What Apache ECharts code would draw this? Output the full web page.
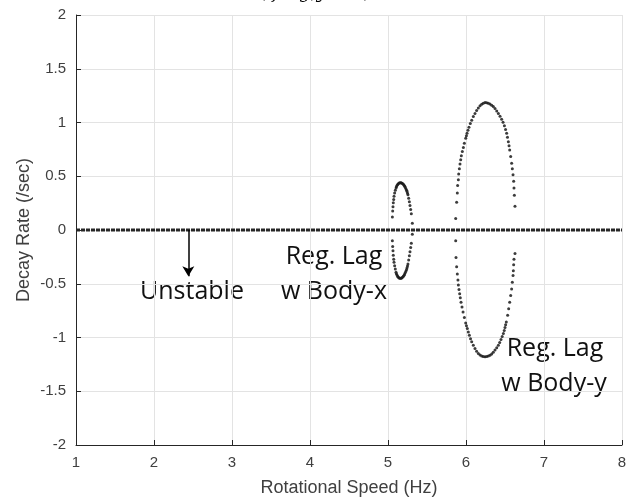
<!DOCTYPE html>
<html>
<head>
<meta charset="utf-8">
<script src="https://cdn.jsdelivr.net/npm/echarts@6/dist/echarts.min.js"></script>
<style>
html,body{margin:0;padding:0;background:#fff;}
#c{width:632px;height:502px;}
</style>
</head>
<body>
<div id="c"></div>
<script>
// ---- data ----
var xTicks = [1, 2, 3, 4, 5, 6, 7, 8];
var yTicks = [-2, -1.5, -1, -0.5, 0, 0.5, 1, 1.5, 2];

// neutral (zero decay) modes across the whole speed range
var zeroModes = [[1, 0], [8, 0]];

// Regressive lag mode coupled with body-x (small ellipse)
var lagBodyXUpper = [
  [5.056,0.120],[5.060,0.176],[5.064,0.216],[5.068,0.253],[5.073,0.283],[5.077,0.314],
  [5.085,0.345],[5.094,0.369],[5.103,0.391],[5.108,0.403],[5.115,0.413],[5.124,0.423],
  [5.132,0.431],[5.143,0.437],[5.154,0.440],[5.165,0.440],[5.175,0.437],[5.186,0.432],
  [5.197,0.425],[5.206,0.417],[5.214,0.407],[5.222,0.395],[5.231,0.382],[5.238,0.370],
  [5.244,0.357],[5.250,0.342],[5.256,0.327],[5.265,0.296],[5.274,0.262],[5.282,0.228],
  [5.291,0.191],[5.299,0.151],[5.312,0.062]
];
var lagBodyXLower = [
  [5.056,-0.101],[5.060,-0.154],[5.064,-0.194],[5.068,-0.234],[5.073,-0.271],[5.077,-0.301],
  [5.085,-0.332],[5.094,-0.363],[5.103,-0.394],[5.108,-0.407],[5.115,-0.418],[5.124,-0.430],
  [5.132,-0.440],[5.143,-0.446],[5.154,-0.449],[5.165,-0.449],[5.175,-0.446],[5.186,-0.440],
  [5.197,-0.431],[5.206,-0.421],[5.214,-0.409],[5.222,-0.396],[5.231,-0.381],[5.238,-0.367],
  [5.244,-0.351],[5.250,-0.335],[5.256,-0.317],[5.265,-0.280],[5.274,-0.240],[5.282,-0.203],
  [5.291,-0.163],[5.299,-0.123],[5.312,-0.040]
];

// Regressive lag mode coupled with body-y (large ellipse)
var lagBodyYUpper = [
  [5.868,0.108],[5.880,0.259],[5.889,0.345],[5.893,0.413],[5.902,0.468],[5.906,0.520],
  [5.915,0.570],[5.923,0.613],[5.932,0.653],[5.940,0.690],[5.953,0.730],[5.966,0.767],
  [5.979,0.807],[5.996,0.853],[6.005,0.876],[6.013,0.899],[6.025,0.928],[6.038,0.955],
  [6.055,0.990],[6.073,1.022],[6.094,1.055],[6.115,1.084],[6.136,1.112],[6.158,1.136],
  [6.180,1.155],[6.201,1.170],[6.222,1.180],[6.244,1.185],[6.265,1.184],[6.286,1.179],
  [6.307,1.172],[6.329,1.161],[6.350,1.148],[6.372,1.130],[6.394,1.108],[6.415,1.084],
  [6.436,1.058],[6.457,1.031],[6.475,1.002],[6.492,0.970],[6.507,0.936],[6.521,0.899],
  [6.532,0.862],[6.543,0.822],[6.552,0.784],[6.560,0.745],[6.573,0.684],[6.585,0.622],
  [6.594,0.570],[6.603,0.514],[6.611,0.453],[6.615,0.391],[6.620,0.323],[6.628,0.222]
];
var lagBodyYLower = [
  [5.868,-0.101],[5.872,-0.255],[5.880,-0.341],[5.889,-0.409],[5.897,-0.464],[5.902,-0.511],
  [5.910,-0.554],[5.919,-0.594],[5.927,-0.631],[5.936,-0.671],[5.949,-0.717],[5.962,-0.763],
  [5.979,-0.815],[5.996,-0.865],[6.006,-0.891],[6.017,-0.917],[6.030,-0.948],[6.043,-0.979],
  [6.058,-1.011],[6.073,-1.040],[6.094,-1.073],[6.115,-1.102],[6.136,-1.127],[6.158,-1.148],
  [6.180,-1.162],[6.201,-1.172],[6.222,-1.177],[6.244,-1.178],[6.265,-1.177],[6.286,-1.172],
  [6.307,-1.165],[6.329,-1.154],[6.350,-1.137],[6.372,-1.117],[6.394,-1.096],[6.415,-1.071],
  [6.432,-1.046],[6.449,-1.018],[6.464,-0.991],[6.479,-0.963],[6.490,-0.936],[6.500,-0.908],
  [6.508,-0.882],[6.517,-0.855],[6.534,-0.794],[6.547,-0.732],[6.560,-0.671],[6.573,-0.609],
  [6.585,-0.548],[6.594,-0.486],[6.603,-0.424],[6.607,-0.378],[6.611,-0.323],[6.615,-0.271],
  [6.628,-0.218]
];

var labelFont = 'Liberation Sans, Arial, sans-serif';
var noteFont = 'Open Sans, sans-serif';
var axisColor = '#262626';
var textColor = '#404040';

var chart = echarts.init(document.getElementById('c'), null, {renderer: 'canvas'});

function dotSeries(name, data) {
  return {
    name: name,
    type: 'scatter',
    data: data,
    symbol: 'circle',
    symbolSize: 3,
    itemStyle: {color: '#1a1a1a', opacity: 0.85},
    silent: true,
    animation: false,
    z: 3
  };
}

var option = {
  animation: false,
  backgroundColor: '#fff',
  grid: {left: 76, right: 10, top: 15, bottom: 55, containLabel: false},
  xAxis: {
    type: 'value',
    min: xTicks[0],
    max: xTicks[xTicks.length - 1],
    interval: 1,
    name: 'Rotational Speed (Hz)',
    nameLocation: 'middle',
    nameGap: 34,
    nameMoveOverlap: false,
    nameTextStyle: {color: textColor, fontFamily: labelFont, fontSize: 18},
    axisLine: {show: true, onZero: false, lineStyle: {color: axisColor, width: 1}},
    axisTick: {show: true, inside: true, length: 5, lineStyle: {color: axisColor}},
    axisLabel: {color: textColor, fontFamily: labelFont, fontSize: 15, margin: 10},
    splitLine: {show: true, lineStyle: {color: '#e3e3e3', width: 1}}
  },
  yAxis: {
    type: 'value',
    min: yTicks[0],
    max: yTicks[yTicks.length - 1],
    interval: 0.5,
    name: 'Decay Rate (/sec)',
    nameLocation: 'middle',
    nameGap: 43,
    nameMoveOverlap: false,
    nameRotate: 90,
    nameTextStyle: {color: textColor, fontFamily: labelFont, fontSize: 18},
    axisLine: {show: true, onZero: false, lineStyle: {color: axisColor, width: 1}},
    axisTick: {show: true, inside: true, length: 5, lineStyle: {color: axisColor}},
    axisLabel: {color: textColor, fontFamily: labelFont, fontSize: 15, margin: 10},
    splitLine: {show: true, lineStyle: {color: '#e3e3e3', width: 1}}
  },
  series: [
    {
      name: 'neutral',
      type: 'line',
      data: zeroModes,
      showSymbol: false,
      lineStyle: {color: '#262626', width: 3, type: [4, 1]},
      silent: true,
      z: 2,
      markLine: {
        silent: true,
        symbol: ['none', 'arrow'],
        symbolSize: [9, 10],
        label: {show: false},
        lineStyle: {color: '#000', width: 1.5, type: 'solid'},
        data: [[{coord: [2.44, 0]}, {coord: [2.44, -0.43]}]]
      }
    },
    dotSeries('lagBodyXUpper', lagBodyXUpper),
    dotSeries('lagBodyXLower', lagBodyXLower),
    dotSeries('lagBodyYUpper', lagBodyYUpper),
    dotSeries('lagBodyYLower', lagBodyYLower)
  ],
  graphic: [
    {type: 'text', left: 'center', top: -16, silent: true,
     style: {text: '(ζ lag,y = 0)', font: 'italic 18px DejaVu Serif, serif', fill: '#000'}},
    {type: 'text', x: 192, y: 292, silent: true,
     style: {text: 'Unstable', font: '25px ' + noteFont, fill: '#111', textAlign: 'center', textVerticalAlign: 'middle'}},
    {type: 'text', x: 334, y: 257, silent: true,
     style: {text: 'Reg. Lag', font: '25px ' + noteFont, fill: '#111', textAlign: 'center', textVerticalAlign: 'middle'}},
    {type: 'text', x: 334, y: 292, silent: true,
     style: {text: 'w Body-x', font: '25px ' + noteFont, fill: '#111', textAlign: 'center', textVerticalAlign: 'middle'}},
    {type: 'text', x: 555, y: 349, silent: true,
     style: {text: 'Reg. Lag', font: '25px ' + noteFont, fill: '#111', textAlign: 'center', textVerticalAlign: 'middle'}},
    {type: 'text', x: 554, y: 384, silent: true,
     style: {text: 'w Body-y', font: '25px ' + noteFont, fill: '#111', textAlign: 'center', textVerticalAlign: 'middle'}}
  ]
};
chart.setOption(option);
</script>
</body>
</html>
